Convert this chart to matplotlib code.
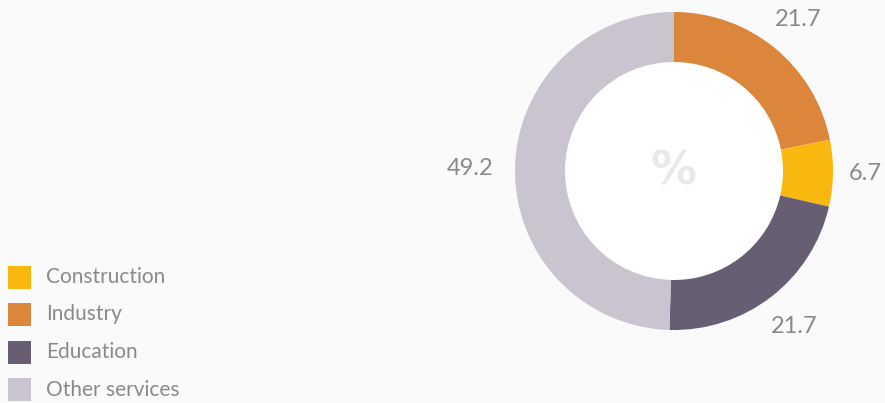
import numpy as np
import matplotlib
matplotlib.use('Agg')
import matplotlib.pyplot as plt
from matplotlib.patches import Rectangle, Circle

# slices in drawing order (clockwise from 12 o'clock)
sectors = ['Industry', 'Construction', 'Education', 'Other services']
shares = [21.7, 6.7, 21.7, 49.2]
share_labels = ['21.7', '6.7', '21.7', '49.2']
colors = {'Construction': '#f8b80f', 'Industry': '#dc863c',
          'Education': '#685e73', 'Other services': '#c9c4cf'}
legend_order = ['Construction', 'Industry', 'Education', 'Other services']

W, H = 885, 403
bg = '#fafafa'
fig = plt.figure(figsize=(W / 100, H / 100), dpi=100, facecolor=bg)
ax = fig.add_axes([0, 0, 1, 1])
ax.set_facecolor(bg)

cx, cy, R = 674, H - 171, 159
wedges, texts = ax.pie(shares, colors=[colors[s] for s in sectors],
                       startangle=90, counterclock=False, radius=R,
                       center=(cx, cy), labels=share_labels, labeldistance=1.24,
                       wedgeprops=dict(width=50, linewidth=0),
                       textprops=dict(fontsize=17, color='#8a8a8a', family='Lato'))
ax.add_patch(Circle((cx, cy), R - 50, color='white', lw=0, zorder=0.5))

# nudge label distance so the text sits clear of the ring
dist = [1.23, 1.20, 1.24, 1.28]
for t, w, d in zip(texts, wedges, dist):
    a = np.deg2rad((w.theta1 + w.theta2) / 2)
    t.set_position((cx + d * R * np.cos(a), cy + d * R * np.sin(a)))
    t.set_ha('center')
    t.set_va('center')

ax.text(cx, cy - 1, '%', ha='center', va='center', fontsize=33, fontweight='bold',
        color='#e9e9e9', family='DejaVu Sans')

# legend
for i, name in enumerate(legend_order):
    y = H - (277 + i * 37.5)
    ax.add_patch(Rectangle((8, y - 11.5), 23, 23, color=colors[name], lw=0))
    ax.text(46, y, name, ha='left', va='center', fontsize=15,
            color='#8a8a8a', family='Lato')

ax.set_xlim(0, W)
ax.set_ylim(0, H)
ax.set_aspect('auto')
ax.axis('off')

fig.savefig('out.png', dpi=100, facecolor=bg)
